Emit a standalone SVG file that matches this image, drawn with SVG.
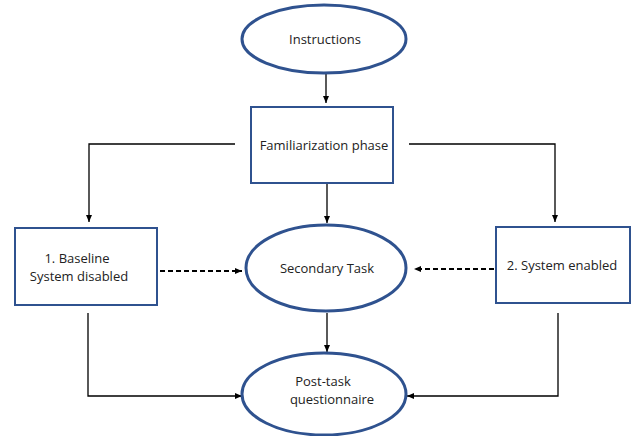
<svg xmlns="http://www.w3.org/2000/svg" width="640" height="436" viewBox="0 0 640 436">
<style>
.node{fill:#fff;stroke:#2F528F}
.ell{stroke-width:3}
.box{stroke-width:2}
text{font-family:"Open Sans","Liberation Sans",sans-serif;font-size:13px;fill:#222;text-anchor:middle}
.c{fill:none;stroke:#000;stroke-width:1.3}
.d{stroke-dasharray:5,3;stroke-width:2}
</style>
<defs>
<marker id="a" markerWidth="8" markerHeight="8" refX="7" refY="4" orient="auto" markerUnits="userSpaceOnUse">
<path d="M0,1 L7,4 L0,7 Z" fill="#000"/>
</marker>
</defs>
<rect width="640" height="436" fill="#fff"/>
<g id="connectors">
<path class="c" d="M326,63 V103" marker-end="url(#a)"/>
<path class="c" d="M235,144 H89 V222" marker-end="url(#a)"/>
<path class="c" d="M409,144 H555 V222" marker-end="url(#a)"/>
<path class="c" d="M327,183 V223" marker-end="url(#a)"/>
<path class="c d" d="M160,271 H242" marker-end="url(#a)"/>
<path class="c d" d="M494,269 H414" marker-end="url(#a)"/>
<path class="c" d="M327,313 V352" marker-end="url(#a)"/>
<path class="c" d="M88,313 V396 H242" marker-end="url(#a)"/>
<path class="c" d="M558,313 V396 H407" marker-end="url(#a)"/>
</g>
<g id="instructions">
<ellipse class="node ell" cx="324" cy="39" rx="82" ry="34"/>
<text x="325" y="44">Instructions</text>
</g>
<g id="familiarization">
<rect class="node box" x="251" y="107" width="142" height="76"/>
<text x="324" y="150">Familiarization phase</text>
</g>
<g id="baseline">
<rect class="node box" x="15" y="228" width="142" height="77"/>
<text x="77" y="263">1. Baseline</text>
<text x="79" y="281">System disabled</text>
</g>
<g id="secondary">
<ellipse class="node ell" cx="326" cy="268" rx="80" ry="43"/>
<text x="327" y="273">Secondary Task</text>
</g>
<g id="enabled">
<rect class="node box" x="496" y="227" width="134" height="76"/>
<text x="562" y="270">2. System enabled</text>
</g>
<g id="posttask">
<ellipse class="node ell" cx="324" cy="394" rx="82" ry="41"/>
<text x="323" y="386">Post-task</text>
<text x="332" y="404">questionnaire</text>
</g>
</svg>
